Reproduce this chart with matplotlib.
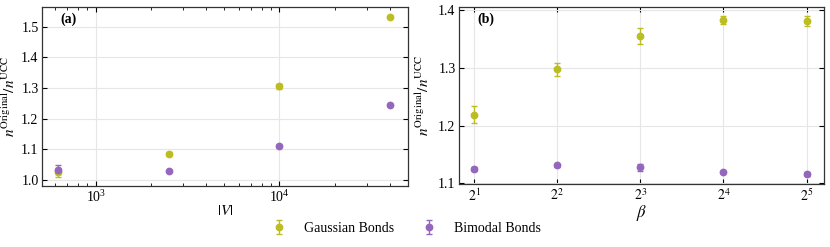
import matplotlib
matplotlib.use("Agg")
import matplotlib.pyplot as plt
import numpy as np
from matplotlib.ticker import LogLocator, NullFormatter, FixedLocator

plt.rcParams['font.family'] = ['Liberation Serif', 'DejaVu Serif']
plt.rcParams['mathtext.fontset'] = 'stix'

# Panel (a): size |V|
sizes = [625, 2500, 10000, 40000]
gauss_a = [1.025, 1.086, 1.306, 1.531]
gauss_a_err = [0.015, 0.005, 0.008, 0.003]
bimod_a = [1.033, 1.028, 1.111, 1.245]
bimod_a_err = [0.015, 0.003, 0.003, 0.003]

# Panel (b): beta
betas = [2, 4, 8, 16, 32]
beta_labels = ['$2^1$', '$2^2$', '$2^3$', '$2^4$', '$2^5$']
gauss_b = [1.219, 1.297, 1.355, 1.382, 1.381]
gauss_b_err = [0.014, 0.012, 0.014, 0.007, 0.009]
bimod_b = [1.125, 1.131, 1.128, 1.120, 1.116]
bimod_b_err = [0.004, 0.003, 0.006, 0.002, 0.003]

c_gauss = '#bcbd22'
c_bimod = '#9467bd'

fig = plt.figure(figsize=(8.3, 2.47), dpi=100)
ax1 = fig.add_axes([42/830, 1-186/247, 366/830, 179/247])
ax2 = fig.add_axes([459/830, 1-184/247, 365/830, 177/247])

ekw = dict(fmt='o', ms=4.6, capsize=2.2, elinewidth=1.0, capthick=1.0)

for ax in (ax1, ax2):
    ax.tick_params(direction='in', which='both', top=True, right=True, labelsize=10, pad=2.5)
    ax.tick_params(which='major', length=3.5)
    ax.tick_params(which='minor', length=2)
    ax.grid(True, color='#e6e6e6', linewidth=0.8)
    ax.set_axisbelow(True)
    for s in ax.spines.values():
        s.set_linewidth(0.9)
        s.set_color('#333333')
    ax.set_ylabel(r'$n^{\mathrm{Original}}/n^{\mathrm{UCC}}$', fontsize=11)

ax1.errorbar(sizes, gauss_a, yerr=gauss_a_err, color=c_gauss, label='Gaussian Bonds', **ekw)
ax1.errorbar(sizes, bimod_a, yerr=bimod_a_err, color=c_bimod, label='Bimodal Bonds', **ekw)
ax1.set_xscale('log')
ax1.set_xlim(510, 50100)
ax1.set_ylim(0.98, 1.564)
ax1.set_yticks([1.0, 1.1, 1.2, 1.3, 1.4, 1.5])
ax1.set_yticklabels(['1.0', '1.1', '1.2', '1.3', '1.4', '1.5'])
ax1.xaxis.set_minor_locator(LogLocator(base=10, subs=np.arange(2, 10)))
ax1.xaxis.set_minor_formatter(NullFormatter())
ax1.set_xlabel('$|V|$', fontsize=11, labelpad=-1)
ax1.yaxis.set_label_coords(-0.066, 0.5)
ax1.text(0.05, 0.93, '(a)', transform=ax1.transAxes, fontweight='bold', fontsize=10, va='center')

ax2.errorbar(betas, gauss_b, yerr=gauss_b_err, color=c_gauss, **ekw)
ax2.errorbar(betas, bimod_b, yerr=bimod_b_err, color=c_bimod, **ekw)
ax2.set_xscale('log', base=2)
ax2.set_xlim(2**0.816, 2**5.21)
ax2.set_ylim(1.099, 1.405)
ax2.set_xticks(betas)
ax2.set_xticklabels(beta_labels)
ax2.xaxis.set_minor_locator(FixedLocator([]))
ax2.set_yticks([1.1, 1.2, 1.3, 1.4])
ax2.set_yticklabels(['1.1', '1.2', '1.3', '1.4'])
ax2.set_xlabel(r'$\beta$', fontsize=12, labelpad=-1)
ax2.yaxis.set_label_coords(-0.074, 0.5)
ax2.text(0.05, 0.93, '(b)', transform=ax2.transAxes, fontweight='bold', fontsize=10, va='center')

h, l = ax1.get_legend_handles_labels()
fig.legend(h, l, loc='center', bbox_to_anchor=(0.489, 1-228/247), ncol=2,
           frameon=False, fontsize=10, columnspacing=1.9, handletextpad=1.2,
           handlelength=1.2)

fig.savefig('out.png', dpi=100)
